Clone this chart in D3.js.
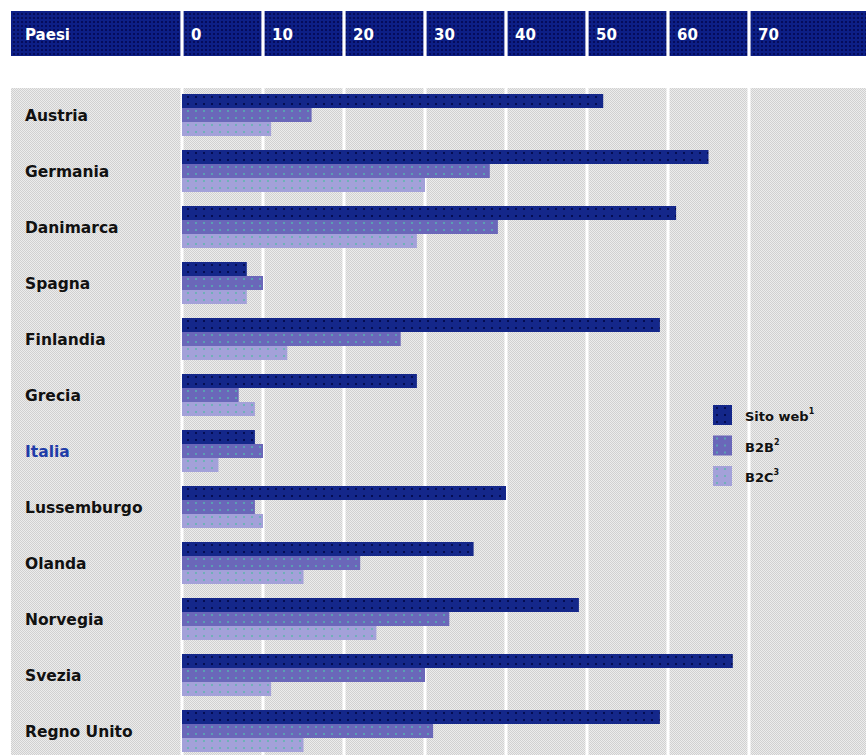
<!DOCTYPE html>
<html>
<head>
<meta charset="utf-8">
<script src="https://cdn.jsdelivr.net/npm/d3@7"></script>
<style>
  body { margin: 0; background: #fff; }
  svg { display: block; }
</style>
</head>
<body>
<svg id="chart" width="866" height="755"></svg>
<script>
// Share of companies (%) by country and channel
const countries = ["Austria", "Germania", "Danimarca", "Spagna", "Finlandia", "Grecia",
                   "Italia", "Lussemburgo", "Olanda", "Norvegia", "Svezia", "Regno Unito"];
const sitoWeb = [52, 65, 61, 8, 59, 29, 9, 40, 36, 49, 68, 59];
const b2b     = [16, 38, 39, 10, 27, 7, 10, 9, 22, 33, 30, 31];
const b2c     = [11, 30, 29, 8, 13, 9, 4.5, 10, 15, 24, 11, 15];
const seriesNames = ["Sito web", "B2B", "B2C"];
const seriesNotes = ["1", "2", "3"];
const tickValues = [0, 10, 20, 30, 40, 50, 60, 70];
const headerLabel = "Paesi";
const highlighted = "Italia";

const W = 866, H = 755;
const svg = d3.select("#chart");
const defs = svg.append("defs");

// halftone-like fills
function dotPattern(id, w, h, base, dots) {
  const p = defs.append("pattern").attr("id", id)
    .attr("width", w).attr("height", h).attr("patternUnits", "userSpaceOnUse");
  p.append("rect").attr("width", w).attr("height", h).attr("fill", base);
  dots.forEach(d => p.append("rect").attr("x", d[0]).attr("y", d[1])
    .attr("width", d[2]).attr("height", d[3]).attr("fill", d[4]));
}
dotPattern("bg", 2, 2, "#ececec", [[0, 0, 1, 1, "#d0d0d0"], [1, 1, 1, 1, "#d0d0d0"]]);
dotPattern("hdr", 4, 4, "#0d1f86", [[1, 1, 2, 2, "#050c5c"]]);
dotPattern("s0", 8, 7, "#14278a", [[3, 2, 2, 2, "#040d52"]]);
dotPattern("s1", 8, 7, "#6a67b9", [[3, 2, 2, 2, "#5a9fb4"]]);
dotPattern("s2", 8, 7, "#a3a1d9", [[3, 2, 2, 2, "#6fb0b8"]]);
const fills = ["url(#s0)", "url(#s1)", "url(#s2)"];
const series = [sitoWeb, b2b, b2c];

const x = d3.scaleLinear().domain([0, 70]).range([182, 749]);
const y0 = d3.scaleBand().domain(countries).range([94, 752])
  .paddingInner(0.25).paddingOuter(0).align(0);
const y1 = d3.scaleBand().domain(d3.range(seriesNames.length))
  .range([0, y0.bandwidth()]).padding(0);

// plot background
const plotTop = 88, leftEdge = 11;
svg.append("rect").attr("x", leftEdge).attr("y", plotTop)
  .attr("width", W - leftEdge).attr("height", H - plotTop).attr("fill", "url(#bg)");

// header band: one cell for the label column, one per tick interval
const hdrTop = 11, hdrH = 45, gap = 1.6;
const header = svg.append("g");
header.append("rect").attr("x", leftEdge).attr("y", hdrTop)
  .attr("width", x(0) - gap - leftEdge).attr("height", hdrH).attr("fill", "url(#hdr)");
header.selectAll("rect.cell").data(tickValues).join("rect").attr("class", "cell")
  .attr("x", d => x(d) + gap)
  .attr("y", hdrTop)
  .attr("width", (d, i) => (i < tickValues.length - 1 ? x(tickValues[i + 1]) - gap : W) - (x(d) + gap))
  .attr("height", hdrH)
  .attr("fill", "url(#hdr)");
const hdrFont = "'DejaVu Sans', sans-serif";
header.append("text").attr("x", 25).attr("y", hdrTop + hdrH / 2 + 1)
  .attr("dominant-baseline", "central")
  .attr("font-family", hdrFont).attr("font-weight", "bold").attr("font-size", 15)
  .attr("fill", "#fff").text(headerLabel);
header.selectAll("text.tick").data(tickValues).join("text").attr("class", "tick")
  .attr("x", d => x(d) + 9)
  .attr("y", hdrTop + hdrH / 2 + 1)
  .attr("dominant-baseline", "central")
  .attr("font-family", hdrFont).attr("font-weight", "bold").attr("font-size", 15)
  .attr("fill", "#fff").text(d => d);

// white vertical gridlines
svg.append("g").selectAll("line").data(tickValues).join("line")
  .attr("x1", d => x(d)).attr("x2", d => x(d))
  .attr("y1", plotTop).attr("y2", H)
  .attr("stroke", "#fff").attr("stroke-width", 3);

// grouped bars
const groups = svg.append("g").selectAll("g").data(countries).join("g")
  .attr("transform", c => `translate(0,${y0(c)})`);
groups.selectAll("rect")
  .data((c, ci) => series.map((s, si) => ({ si, v: s[ci] })))
  .join("rect")
  .attr("x", x(0))
  .attr("y", d => y1(d.si))
  .attr("width", d => x(d.v) - x(0))
  .attr("height", y1.bandwidth())
  .attr("fill", d => fills[d.si]);

// country labels
svg.append("g").selectAll("text").data(countries).join("text")
  .attr("x", 25)
  .attr("y", c => y0(c) + y0.bandwidth() / 2 + 1)
  .attr("dominant-baseline", "central")
  .attr("font-family", hdrFont).attr("font-weight", "bold").attr("font-size", 15.5)
  .attr("fill", c => c === highlighted ? "#1f3ca8" : "#111")
  .text(c => c);

// legend
const legend = svg.append("g").attr("transform", "translate(713,405)");
const items = legend.selectAll("g").data(seriesNames).join("g")
  .attr("transform", (d, i) => `translate(0,${i * 30.5})`);
items.append("rect").attr("width", 19).attr("height", 20)
  .attr("fill", (d, i) => fills[i]);
const lt = items.append("text").attr("x", 32).attr("y", 11)
  .attr("dominant-baseline", "central")
  .attr("font-family", hdrFont).attr("font-weight", "bold").attr("font-size", 13)
  .attr("fill", "#111");
lt.append("tspan").text(d => d);
lt.append("tspan").attr("dy", -5).attr("font-size", 8).text((d, i) => seriesNotes[i]);
</script>
</body>
</html>
